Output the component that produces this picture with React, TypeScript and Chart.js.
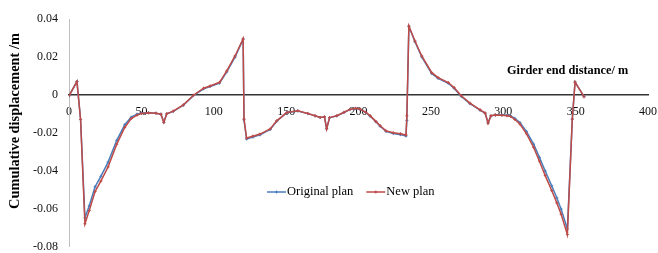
import React, { useEffect, useRef } from "react";
import { Chart, registerables } from "chart.js";

Chart.register(...registerables);

// Girder end distance (m)
const distances = [
  0, 5.5, 8, 11, 14, 18, 22, 27, 33, 38.5,
  43, 47, 50, 55, 60, 63.5, 65.5, 67.5, 72, 79,
  86, 93, 97.5, 104, 109, 114.7, 120.3, 120.9, 122.7, 127,
  132, 139, 143.5, 150.5, 158, 165, 170, 173.5, 176.5, 178,
  180, 185, 190, 194, 198, 201, 205, 208, 212, 215,
  219, 224, 229, 232.8, 233.4, 234.8, 239, 243.7, 250.5, 255,
  262, 266, 271, 277, 284, 287.5, 289.5, 291.5, 294.5, 299,
  302.5, 305, 308, 311.5, 316, 321, 325, 329, 333.5, 337,
  340, 344.3, 347.7, 349.6, 355.8,
];

// Cumulative displacement (m) - Original plan
const originalPlan = [
  -0.0005, 0.007, -0.013, -0.0649, -0.0585, -0.0485, -0.043, -0.0355, -0.024, -0.0158,
  -0.0118, -0.0102, -0.0096, -0.0094, -0.0097, -0.0102, -0.0145, -0.01, -0.0087, -0.0055,
  -0.0004, 0.0032, 0.0044, 0.0062, 0.0121, 0.0199, 0.0292, -0.0132, -0.0233, -0.0223,
  -0.0211, -0.0183, -0.0139, -0.0094, -0.0085, -0.0099, -0.0111, -0.012, -0.0117, -0.0178,
  -0.0121, -0.0111, -0.0093, -0.0078, -0.0072, -0.0076, -0.0093, -0.0112, -0.0142, -0.0166,
  -0.0193, -0.0204, -0.021, -0.0217, -0.0135, 0.036, 0.028, 0.02, 0.0113, 0.0087,
  0.0061, 0.0035, -0.0008, -0.0047, -0.0081, -0.0097, -0.0147, -0.0111, -0.0107, -0.0106,
  -0.0108, -0.011, -0.0124, -0.0146, -0.0193, -0.026, -0.033, -0.0402, -0.048, -0.0543,
  -0.0603, -0.0707, -0.0128, 0.0067, -0.001,
];

// Cumulative displacement (m) - New plan
const newPlan = [
  -0.0005, 0.007, -0.013, -0.068, -0.061, -0.051, -0.0455, -0.038, -0.026, -0.0172,
  -0.0125, -0.0107, -0.0098, -0.0095, -0.0097, -0.0102, -0.0145, -0.01, -0.0086, -0.0053,
  -0.0002, 0.0035, 0.0047, 0.0066, 0.0126, 0.0205, 0.0296, -0.0128, -0.0228, -0.0218,
  -0.0207, -0.018, -0.0137, -0.0093, -0.0084, -0.0098, -0.011, -0.0119, -0.0116, -0.018,
  -0.012, -0.011, -0.0092, -0.0077, -0.0071, -0.0075, -0.0092, -0.011, -0.014, -0.0163,
  -0.019, -0.02, -0.0205, -0.0212, -0.011, 0.0363, 0.0284, 0.0205, 0.0118, 0.0091,
  0.0065, 0.0039, -0.0005, -0.0044, -0.0079, -0.0096, -0.0149, -0.011, -0.0107, -0.0108,
  -0.011, -0.0114, -0.013, -0.0154, -0.0205, -0.0277, -0.035, -0.0426, -0.0505, -0.057,
  -0.063, -0.0737, -0.0128, 0.0067, -0.001,
];

const seriesNames = ["Original plan", "New plan"];
const seriesColors = ["#4A7EBB", "#BE4B48"];
const xTickValues = [0, 50, 100, 150, 200, 250, 300, 350, 400];
const yTickValues = [-0.08, -0.06, -0.04, -0.02, 0, 0.02, 0.04];
const xAxisTitle = "Girder end distance/ m";
const yAxisTitle = "Cumulative displacement /m";

const SERIF = '"Liberation Serif", "Times New Roman", serif';

function drawCross(ctx: CanvasRenderingContext2D, x: number, y: number, r: number) {
  ctx.beginPath();
  ctx.moveTo(x - r, y);
  ctx.lineTo(x + r, y);
  ctx.moveTo(x, y - r);
  ctx.lineTo(x, y + r);
  ctx.stroke();
}

const overlayPlugin = {
  id: "overlay",
  afterDraw(chart: any) {
    const ctx: CanvasRenderingContext2D = chart.ctx;
    const area = chart.chartArea;
    // Y axis title
    ctx.save();
    ctx.fillStyle = "#000";
    ctx.font = `bold 14.4px ${SERIF}`;
    ctx.translate(15, area.top + 102);
    ctx.rotate(-Math.PI / 2);
    ctx.textAlign = "center";
    ctx.textBaseline = "middle";
    ctx.fillText(yAxisTitle, 0, 0);
    ctx.restore();

    // X axis title (inside plot, upper right)
    ctx.save();
    ctx.fillStyle = "#000";
    ctx.font = `bold 12.3px ${SERIF}`;
    ctx.textAlign = "left";
    ctx.textBaseline = "middle";
    ctx.fillText(xAxisTitle, area.left + 438, area.top + 52);
    ctx.restore();

    // Legend
    ctx.save();
    ctx.font = `12.5px ${SERIF}`;
    ctx.textBaseline = "middle";
    ctx.textAlign = "left";
    const ly = area.top + 173;
    let lx = area.left + 198;
    seriesNames.forEach((name, i) => {
      ctx.strokeStyle = seriesColors[i];
      ctx.lineWidth = 1.5;
      ctx.beginPath();
      ctx.moveTo(lx, ly);
      ctx.lineTo(lx + 19, ly);
      ctx.stroke();
      ctx.lineWidth = 1;
      drawCross(ctx, lx + 9.5, ly, 1.5);
      ctx.fillStyle = "#000";
      ctx.fillText(name, lx + 20, ly);
      lx += 20 + ctx.measureText(name).width + 13;
    });
    ctx.restore();
  },
};

export default function App() {
  const canvasRef = useRef<HTMLCanvasElement | null>(null);

  useEffect(() => {
    const canvas = canvasRef.current;
    if (!canvas) return;
    const mk = (vals: number[]) => distances.map((d, i) => ({ x: d, y: vals[i] }));
    const chart = new Chart(canvas, {
      type: "line",
      data: {
        datasets: [
          {
            label: seriesNames[0],
            data: mk(originalPlan),
            borderColor: seriesColors[0],
            backgroundColor: seriesColors[0],
            borderWidth: 1.5,
            pointStyle: "cross",
            pointRadius: 1.5,
            pointBorderWidth: 1,
            tension: 0,
            order: 2,
          },
          {
            label: seriesNames[1],
            data: mk(newPlan),
            borderColor: seriesColors[1],
            backgroundColor: seriesColors[1],
            borderWidth: 1.5,
            pointStyle: "cross",
            pointRadius: 1.5,
            pointBorderWidth: 1,
            tension: 0,
            order: 1,
          },
        ],
      },
      options: {
        animation: false,
        responsive: false,
        devicePixelRatio: 1,
        layout: { padding: { top: 19, bottom: 6.5, right: 10, left: 0 } },
        plugins: {
          legend: { display: false },
          tooltip: { enabled: false },
        },
        scales: {
          x: {
            type: "linear",
            min: 0,
            max: 400,
            position: { y: 0 } as any,
            afterBuildTicks: (scale: any) => {
              scale.ticks = xTickValues.map((v) => ({ value: v }));
            },
            afterFit: (scale: any) => {
              scale.height = 0;
              scale.paddingLeft = 0;
              scale.paddingRight = 0;
              scale.paddingTop = 0;
              scale.paddingBottom = 0;
            },
            grid: { display: false, drawTicks: false },
            border: { display: true, color: "#333", width: 1.5 },
            ticks: {
              padding: 10,
              color: "#111",
              font: { family: SERIF, size: 12 },
              maxRotation: 0,
              callback: (v: any) => String(v),
            },
          },
          y: {
            type: "linear",
            min: -0.08,
            max: 0.04,
            afterBuildTicks: (scale: any) => {
              scale.ticks = yTickValues.map((v) => ({ value: v }));
            },
            afterFit: (scale: any) => {
              scale.width = 69;
              scale.paddingTop = 0;
              scale.paddingBottom = 0;
            },
            grid: { display: false, drawTicks: false },
            border: { display: true, color: "#BFBFBF", width: 1 },
            ticks: {
              padding: 11,
              color: "#111",
              font: { family: SERIF, size: 12 },
              callback: (v: any) => String(Number(Number(v).toFixed(2))),
            },
          },
        },
      },
      plugins: [overlayPlugin],
    });
    return () => chart.destroy();
  }, []);

  return (
    <div style={{ position: "absolute", left: 0, top: 0, width: 658, height: 253, background: "#fff" }}>
      <canvas ref={canvasRef} width={658} height={253} />
    </div>
  );
}
